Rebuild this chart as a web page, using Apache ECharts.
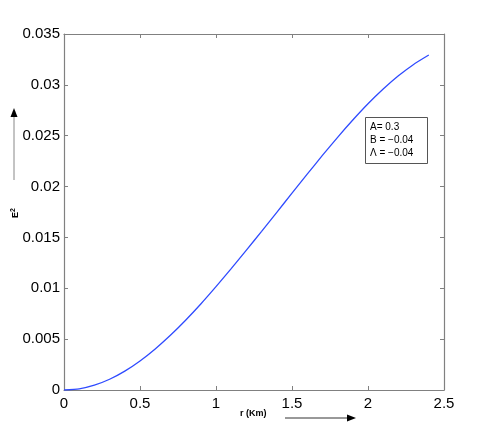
<!DOCTYPE html>
<html>
<head>
<meta charset="utf-8">
<script src="https://cdn.jsdelivr.net/npm/echarts@6/dist/echarts.min.js"></script>
<style>html,body{margin:0;padding:0;background:#fff}#c{width:491px;height:439px}</style>
</head>
<body>
<div id="c"></div>
<script>
const rValues = [0, 0.1, 0.2, 0.3, 0.4, 0.5, 0.6, 0.7, 0.8, 0.9, 1.0, 1.1, 1.2, 1.3, 1.4, 1.5, 1.6, 1.7, 1.8, 1.9, 2.0, 2.1, 2.2, 2.3, 2.4];
const e2Values = [0, 0.00012, 0.00048, 0.00106, 0.00186, 0.00286, 0.00404, 0.00538, 0.00686, 0.00846, 0.01016, 0.01193, 0.01375, 0.0156, 0.01747, 0.01935, 0.02122, 0.02306, 0.02484, 0.02654, 0.02814, 0.02959, 0.03089, 0.03201, 0.03293];
const xTicks = ['0', '0.5', '1', '1.5', '2', '2.5'];
const yTicks = ['0', '0.005', '0.01', '0.015', '0.02', '0.025', '0.03', '0.035'];
const paramLines = ['A= 0.3', 'B = \u22120.04', '\u039B = \u22120.04'];
const xLabel = 'r (Km)';
const yLabel = 'E';

const chart = echarts.init(document.getElementById('c'));
const axisColor = '#808080';
const font = 'Liberation Sans, Arial, Helvetica, sans-serif';
const axisCommon = {
  axisLine: { show: true, onZero: false, lineStyle: { color: axisColor, width: 1.2 } },
  axisTick: { show: true, inside: true, length: 4, lineStyle: { color: axisColor } },
  splitLine: { show: false }
};
chart.setOption({
  animation: false,
  grid: { left: 64, right: 47, top: 34, bottom: 49 },
  xAxis: [
    Object.assign({
      type: 'value', min: 0, max: 2.5, interval: 0.5, position: 'bottom',
      axisLabel: { color: '#000', fontSize: 15, fontFamily: font, margin: 6,
        formatter: v => xTicks[Math.round(v / 0.5)] }
    }, axisCommon),
    Object.assign({
      type: 'value', min: 0, max: 2.5, interval: 0.5, position: 'top',
      axisLabel: { show: false }
    }, axisCommon)
  ],
  yAxis: [
    Object.assign({
      type: 'value', min: 0, max: 0.035, interval: 0.005, position: 'left',
      axisLabel: { color: '#000', fontSize: 15, fontFamily: font, margin: 4,
        formatter: v => yTicks[Math.round(v / 0.005)] }
    }, axisCommon),
    Object.assign({
      type: 'value', min: 0, max: 0.035, interval: 0.005, position: 'right',
      axisLabel: { show: false }
    }, axisCommon)
  ],
  series: [{
    type: 'line',
    data: rValues.map((r, i) => [r, e2Values[i]]),
    smooth: 0.2,
    showSymbol: false,
    lineStyle: { color: '#2f4bff', width: 1.3 }
  }],
  graphic: [
    { type: 'rect', left: 365, top: 117, shape: { width: 62, height: 46 },
      style: { fill: '#fff', stroke: '#555', lineWidth: 1 } },
    { type: 'text', left: 370, top: 121, style: { text: paramLines.join('\n'), font: '10px ' + font, fill: '#000', lineHeight: 13 } },
    { type: 'line', shape: { x1: 285, y1: 418, x2: 350, y2: 418 }, style: { stroke: '#333', lineWidth: 1 } },
    { type: 'polygon', shape: { points: [[356, 418], [347, 414.5], [347, 421.5]] }, style: { fill: '#000' } },
    { type: 'text', left: 240, top: 409, style: { text: xLabel, font: 'bold 9px ' + font, fill: '#000' } },
    { type: 'line', shape: { x1: 14, y1: 180, x2: 14, y2: 114 }, style: { stroke: '#888', lineWidth: 1 } },
    { type: 'polygon', shape: { points: [[14, 108], [10.5, 117], [17.5, 117]] }, style: { fill: '#000' } },
    { type: 'text', x: 10, y: 218, rotation: Math.PI / 2,
      style: { rich: { b: { font: 'bold 9px ' + font, fill: '#000' }, s: { font: 'bold 7px ' + font, fill: '#000', padding: [0, 0, 5, 0] } },
        text: '{b|' + yLabel + '}{s|2}', fill: '#000' } }
  ]
});
</script>
</body>
</html>
